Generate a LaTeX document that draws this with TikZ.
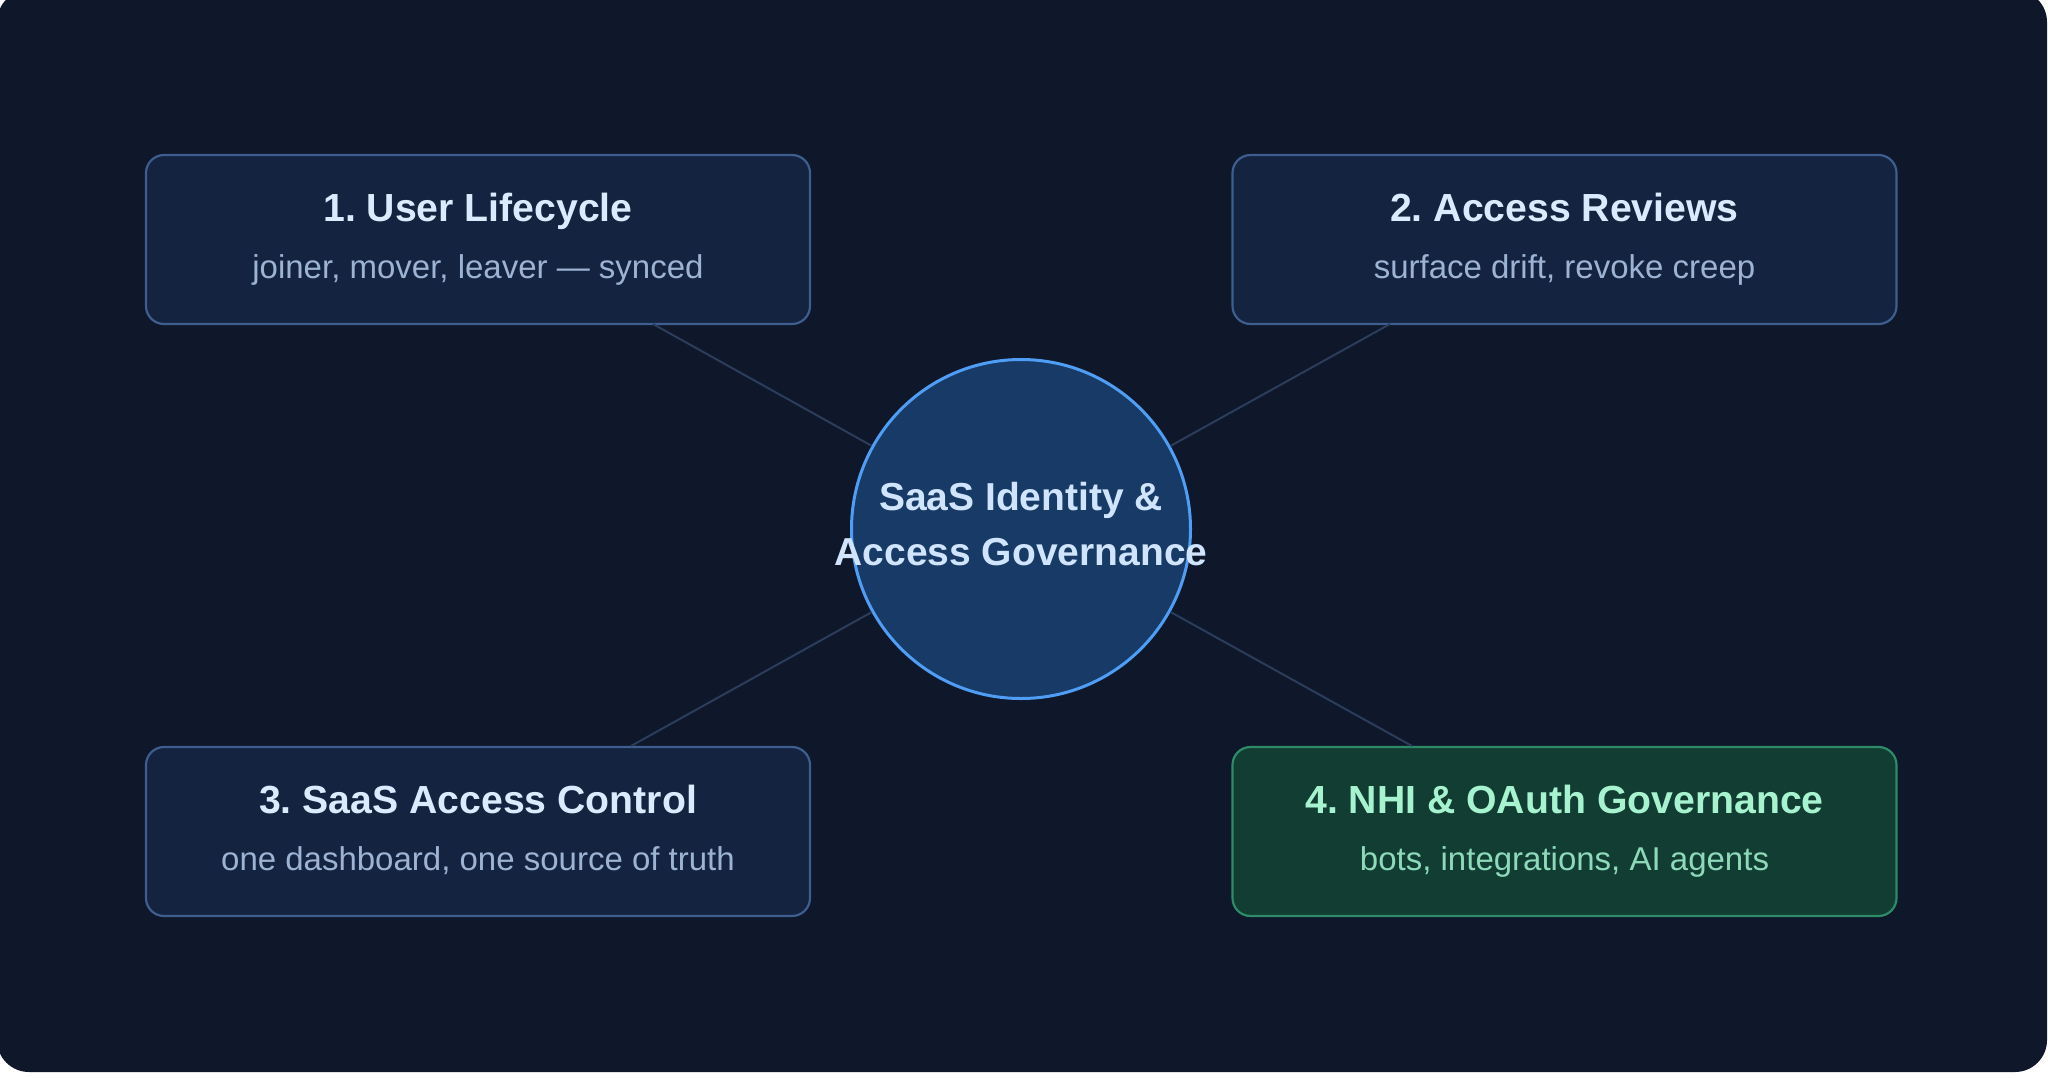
\documentclass[tikz,border=0pt]{standalone}
\usepackage{fontspec}
\setmainfont{Liberation Sans}
\frenchspacing
\definecolor{pagebg}{HTML}{0F172A}
\definecolor{cardfill}{HTML}{14233F}
\definecolor{cardline}{HTML}{3D5E8E}
\definecolor{greenfill}{HTML}{113D33}
\definecolor{greenline}{HTML}{2E8B68}
\definecolor{hubfill}{HTML}{173A66}
\definecolor{hubline}{HTML}{4F9DF5}
\definecolor{titlecol}{HTML}{DBEAFE}
\definecolor{subcol}{HTML}{9DB3D3}
\definecolor{gtitlecol}{HTML}{A7F3D0}
\definecolor{gsubcol}{HTML}{8ED9BA}
\definecolor{linkcol}{HTML}{2B3D5A}
\begin{document}
\begin{tikzpicture}[x=1pt,y=-1pt,
  card/.style={draw=cardline, fill=cardfill, line width=2.2pt, rounded corners=18pt,
    minimum width=664pt, minimum height=169pt, inner sep=0pt},
  greencard/.style={card, draw=greenline, fill=greenfill},
  hubnode/.style={circle, draw=hubline, fill=hubfill, line width=3pt,
    minimum size=339pt, inner sep=0pt},
  titletext/.style={anchor=base, text=titlecol, inner sep=0pt,
    font=\fontsize{39.2}{46}\selectfont\bfseries},
  hubtext/.style={titletext, text=titlecol!92!hubline,
    font=\fontsize{39}{46}\selectfont\bfseries},
  subtext/.style={anchor=base, text=subcol, inner sep=0pt,
    font=\fontsize{33}{40}\selectfont},
  link/.style={draw=linkcol, line width=2pt}]
\useasboundingbox (0,0) rectangle (2048,1077);
\fill[white] (0,0) rectangle (2048,1077);
\fill[pagebg, rounded corners=32pt] (-3,-10) rectangle (2047,1072);

% cards
\node[card] (b1) at (478,239.5) {};
\node[card] (b2) at (1564.5,239.5) {};
\node[card] (b3) at (478,831.5) {};
\node[greencard] (b4) at (1564.5,831.5) {};

% hub
\node[hubnode] (hub) at (1021,529) {};

% link end points on card edges
\coordinate (c1) at (653,324);
\coordinate (c2) at (1390,324);
\coordinate (c3) at (631,746);
\coordinate (c4) at (1412,746);
\draw[link] (hub) -- (c1);
\draw[link] (hub) -- (c2);
\draw[link] (hub) -- (c3);
\draw[link] (hub) -- (c4);

% hub text
\node[hubtext] (h1) at (1021,510) {SaaS Identity \&};
\node[hubtext] (h2) at (1021,565) {Access Governance};

% card texts
\node[titletext] (t1) at (478,221) {1. User Lifecycle};
\node[subtext] (s1) at (478,278) {joiner, mover, leaver — synced};
\node[titletext] (t2) at (1564.5,221) {2. Access Reviews};
\node[subtext] (s2) at (1564.5,278) {surface drift, revoke creep};
\node[titletext] (t3) at (478,813) {3. SaaS Access Control};
\node[subtext] (s3) at (478,870) {one dashboard, one source of truth};
\node[titletext, text=gtitlecol] (t4) at (1564.5,813) {4. NHI \& OAuth Governance};
\node[subtext, text=gsubcol] (s4) at (1564.5,870) {bots, integrations, AI agents};
\end{tikzpicture}
\end{document}
